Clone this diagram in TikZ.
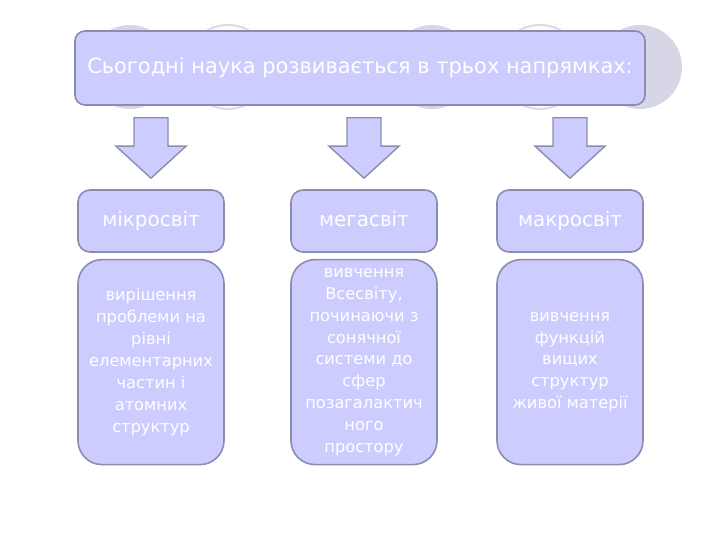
\documentclass[tikz,border=0pt]{standalone}
\usepackage{fontspec}
\setmainfont{DejaVu Sans}
\usetikzlibrary{positioning,calc}
\definecolor{lilac}{HTML}{CCCCFF}
\definecolor{edge}{HTML}{8C8CB0}
\definecolor{disc}{HTML}{D6D6E6}
\definecolor{ring}{HTML}{DCDCE6}

\begin{document}
\begin{tikzpicture}[x=1bp, y=-1bp,
  topbox/.style={draw=edge, fill=lilac, line width=1.6bp, rounded corners=10bp,
    text=white, minimum width=570bp, minimum height=74bp,
    font=\fontsize{21}{25}\selectfont},
  worldbox/.style={draw=edge, fill=lilac, line width=1.6bp, rounded corners=12bp,
    text=white, minimum width=146bp, minimum height=62bp,
    text height=1.15em, text depth=0.05em,
    font=\fontsize{20}{24}\selectfont},
  descbox/.style={draw=edge, fill=lilac, line width=1.6bp, rounded corners=24bp,
    text=white, minimum width=146bp, minimum height=205bp, align=center,
    inner sep=2bp, font=\fontsize{16.3}{22}\selectfont},
  blockarrow/.style={draw=edge, fill=lilac, line width=1.4bp, line join=miter},
 ]
 \useasboundingbox (0,0) rectangle (720,540);

 % circles behind the title
 \foreach \x in {130,432,640}
   \fill[disc] (\x,67) circle (42bp);
 \foreach \x in {228,540}
   \draw[ring, fill=white, line width=2bp] (\x,67) circle (42bp);

 \node[topbox] (top) at (360,68) {Сьогодні наука розвивається в трьох напрямках:};

 \node[worldbox] (mikro) at (151,221) {мікросвіт};
 \node[worldbox] (mega) at (364,221) {мегасвіт};
 \node[worldbox] (makro) at (570,221) {макросвіт};

 \node[descbox, below=6bp of mikro] (mikrotext) {вирішення\\проблеми на\\рівні\\елементарних\\частин і\\атомних\\структур};
 \node[descbox, below=6bp of mega] (megatext) {вивчення\\Всесвіту,\\починаючи з\\сонячної\\системи до\\сфер\\позагалактич\\ного\\простору};
 \node[descbox, below=6bp of makro] (makrotext) {вивчення\\функцій\\вищих\\структур\\живої матерії};

 % block arrows
 \foreach \n in {mikro,mega,makro}
   \draw[blockarrow] ($(top.south -| \n.north)+(-17,12)$) -- ++(34,0)
     -- ($(\n.north)+(17,-43)$) -- ++(18,0) -- ($(\n.north)+(0,-11)$)
     -- ++(-35,-32) -- ++(18,0) -- cycle;

\end{tikzpicture}
\end{document}
